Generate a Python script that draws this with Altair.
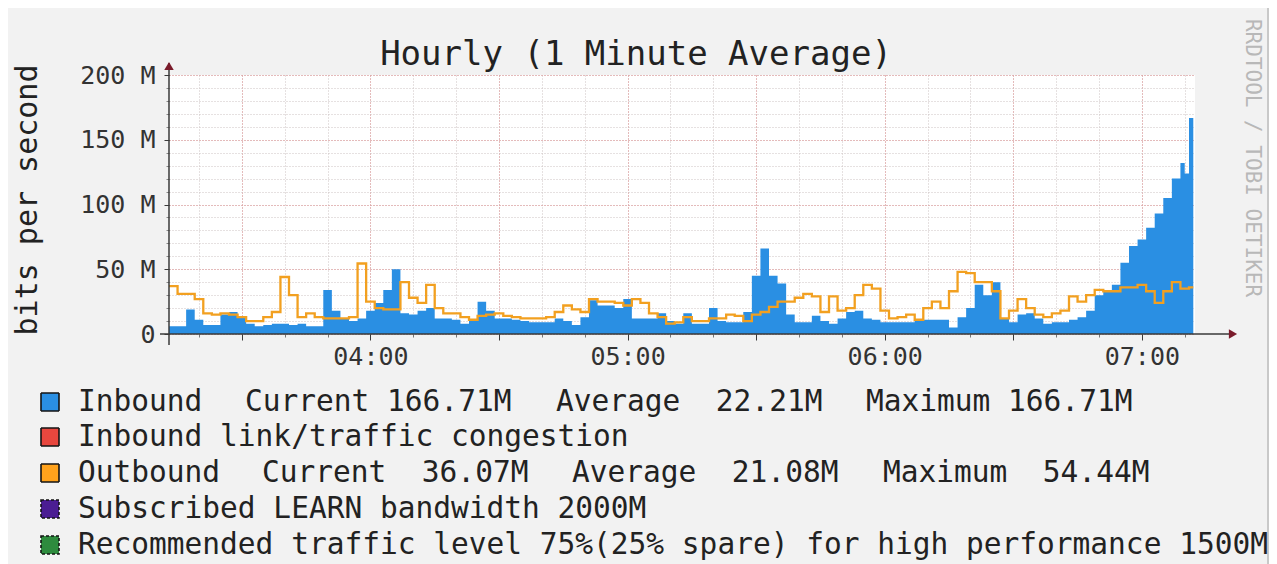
import altair as alt
import pandas as pd

# ---------------- data ----------------
# RRD samples: 2-minute steps from 03:13, then 1-minute steps at the end
start_time = "03:13"
n_two_minute = 118
one_minute_tail = ["07:09", "07:10", "07:11"]
end_time = "07:12"

# Inbound traffic, Mbit/s
inbound = [
    6, 6, 19, 11, 7, 7, 15, 17, 13, 8, 6, 7, 8, 8, 7, 8, 6, 6, 34, 18,
    12, 10, 12, 18, 24, 34, 50, 16, 15, 18, 20, 12, 12, 11, 8, 11, 25, 18,
    12, 12, 11, 10, 9, 9, 9, 12, 10, 7, 13, 26, 22, 22, 20, 27, 12,
    12, 12, 16, 10, 8, 16, 8, 8, 20, 10, 9, 9, 17, 45, 66, 45, 39, 15, 9, 9, 14, 10, 8, 12,
    17, 18, 12, 11, 9, 9, 9, 9, 10, 11, 11, 11, 5, 13, 20, 38, 30, 40, 12, 9, 15, 16, 12, 8, 9,
    9, 11, 13, 18, 30, 34, 38, 55, 68, 73, 82, 93, 105, 120,
    132, 124, 166.71,
]
# Outbound traffic, Mbit/s
outbound = [
    37, 31, 31, 27, 16, 15, 16, 15, 13, 10, 10, 13, 17, 44, 30, 13, 16, 13, 12, 12,
    12, 13, 54.44, 25, 20, 19, 19, 40, 28, 24, 38, 20, 16, 16, 13, 11, 14, 15,
    16, 14, 13, 12, 12, 12, 13, 17, 22, 19, 17, 27, 25, 25, 24, 22, 27,
    24, 16, 13, 8, 9, 13, 10, 10, 12, 12, 15, 14, 10, 15, 17, 21, 25, 25, 28, 31, 29, 17, 29, 18,
    20, 30, 38, 35, 18, 12, 13, 15, 11, 20, 25, 20, 33, 48, 47, 40, 40, 33, 12, 18, 27, 20, 15, 13, 16,
    18, 29, 25, 30, 34, 33, 33, 36, 36, 38, 33, 24, 33, 40,
    35, 35, 36.07,
]

y_ticks = [0, 50, 100, 150, 200]
hour_labels = ["04:00", "05:00", "06:00", "07:00"]

title_text = "Hourly (1 Minute Average)"
y_title = "bits per second"
watermark = "RRDTOOL / TOBI OETIKER"
legend_rows = [
    ["Inbound", "Current 166.71M", "Average  22.21M", "Maximum 166.71M"],
    ["Inbound link/traffic congestion"],
    ["Outbound", "Current  36.07M", "Average  21.08M", "Maximum  54.44M"],
    ["Subscribed LEARN bandwidth 2000M"],
    ["Recommended traffic level 75%(25% spare) for high performance 1500M"],
]
legend_colors = ["#2a8fe3", "#e8473e", "#ffa21c", "#4b1d93", "#2e8b3e"]

# ---------------- build table ----------------
def to_min(s):
    h, m = s.split(":")
    return int(h) * 60 + int(m)

t0 = to_min(start_time)
times = [t0 + 2 * i for i in range(n_two_minute)] + [to_min(s) for s in one_minute_tail]
df = pd.DataFrame({"t": times, "inbound": inbound, "outbound": outbound})
# terminal row so the last step reaches the end of its interval
df = pd.concat([df, pd.DataFrame({"t": [to_min(end_time)], "inbound": [inbound[-1]],
                                  "outbound": [outbound[-1]]})], ignore_index=True)

# ---------------- styling / layout ----------------
MONO = "DejaVu Sans Mono"
BLUE = "#2a8fe3"
ORANGE = "#f2a020"
MINOR = "#cdc2c2"
MAJOR = "#e39494"
AXIS = "#3a3a3a"
ARROW = "#7a1b2b"
W, H = 1026, 259
NBSP = "\u00a0"
LEG_FS = 29.5

xs = alt.Scale(domain=[t0, to_min(end_time) + 0.4], nice=False, zero=False)
ys = alt.Scale(domain=[y_ticks[0], y_ticks[-1]], nice=False)

hour_vals = [to_min(h) for h in hour_labels]
minor_x = alt.Axis(orient="bottom", values=list(range(t0 + 7, to_min(end_time), 10)), grid=True,
                   gridColor=MINOR, gridDash=[1, 2], ticks=True, tickSize=3, tickColor="#777",
                   labels=False, domain=False, title=None)
major_x = alt.Axis(orient="bottom", values=list(range(hour_vals[0] - 30, hour_vals[-1] + 1, 30)),
                   grid=True, gridColor=MAJOR, gridDash=[1, 2], ticks=True, tickSize=6,
                   tickColor=AXIS,
                   labelExpr="datum.value % 60 == 0 ? format(datum.value / 60, '02d') + ':00' : ''",
                   labelFont=MONO, labelFontSize=25, labelColor="#333", labelPadding=4,
                   labelOverlap=False, labelFlush=False, domain=False, title=None)
minor_y = alt.Axis(orient="left", values=list(range(0, 201, 10)), grid=True, gridColor=MINOR,
                   gridDash=[1, 2], ticks=True, tickSize=3, tickColor="#888", labels=False,
                   domain=False, title=None)
major_y = alt.Axis(orient="left", values=y_ticks, grid=True, gridColor=MAJOR, gridDash=[1, 2],
                   ticks=True, tickSize=5, tickColor=AXIS,
                   labelExpr="datum.value == 0 ? '0' : datum.value + ' M'",
                   labelFont=MONO, labelFontSize=25, labelColor="#333", labelPadding=9,
                   labelOverlap=False, labelFlush=False, domain=False, title=None)

area = alt.Chart(df).mark_area(interpolate="step-after", color=BLUE).encode(
    x=alt.X("t:Q", scale=xs, axis=minor_x),
    y=alt.Y("inbound:Q", scale=ys, axis=minor_y),
)
line = alt.Chart(df).mark_line(interpolate="step-after", color=ORANGE, strokeWidth=2.3).encode(
    x=alt.X("t:Q", scale=xs, axis=major_x),
    y=alt.Y("outbound:Q", scale=ys, axis=major_y),
)

one = pd.DataFrame({"a": [0]})
decor = []
# axis lines and arrows
decor.append(alt.Chart(one).mark_rule(color=AXIS, strokeWidth=1.5).encode(
    x=alt.value(0), y=alt.value(-12), y2=alt.value(H + 11)))
decor.append(alt.Chart(one).mark_rule(color=AXIS, strokeWidth=1.5).encode(
    x=alt.value(-9), x2=alt.value(W + 36), y=alt.value(H)))
decor.append(alt.Chart(one).mark_point(shape="triangle-up", filled=True, size=90, color=ARROW,
                                       opacity=1).encode(x=alt.value(0), y=alt.value(-9)))
decor.append(alt.Chart(one).mark_point(shape="triangle-right", filled=True, size=90, color=ARROW,
                                       opacity=1).encode(x=alt.value(W + 38), y=alt.value(H)))
# titles
decor.append(alt.Chart(one).mark_text(text=title_text, font=MONO, fontSize=34, color="#222",
                                      align="center", baseline="middle").encode(
    x=alt.value(467), y=alt.value(-20)))
decor.append(alt.Chart(one).mark_text(text=y_title, font=MONO, fontSize=30, color="#222",
                                      align="center", baseline="middle", angle=270).encode(
    x=alt.value(-141), y=alt.value(125)))
decor.append(alt.Chart(one).mark_text(text=watermark, font=MONO, fontSize=21, color="#b8b8b8",
                                      align="center", baseline="middle", angle=90).encode(
    x=alt.value(1083), y=alt.value(83)))
# frame line at right
decor.append(alt.Chart(one).mark_rule(color="#c9c9c9", strokeWidth=2).encode(
    x=alt.value(1099), y=alt.value(-67), y2=alt.value(489)))

# legend
row_y = [327, 362, 398, 434, 470]
piece_x = {0: [-91, 76, 387, 697], 2: [-91, 93, 403, 714]}
for r, pieces in enumerate(legend_rows):
    cy = row_y[r]
    dash = [3, 2] if r >= 3 else [1, 0]
    decor.append(alt.Chart(one).mark_rect(color=legend_colors[r], stroke="#151515",
                                          strokeWidth=1.6, strokeDash=dash).encode(
        x=alt.value(-128), x2=alt.value(-110), y=alt.value(cy - 9), y2=alt.value(cy + 9)))
    xs_r = piece_x.get(r, [-91])
    for p, txt in enumerate(pieces):
        decor.append(alt.Chart(one).mark_text(text=txt.replace(" ", NBSP), font=MONO,
                                              fontSize=LEG_FS, color="#222",
                                              align="left", baseline="middle").encode(
            x=alt.value(xs_r[p]), y=alt.value(cy)))

chart = alt.layer(area, line, *decor).resolve_axis(x="independent", y="independent").properties(
    width=W, height=H,
    padding={"left": 161, "top": 67, "right": 74, "bottom": 230},
    autosize=alt.AutoSizeParams(type="none"),
    background="#f2f2f2",
).configure_view(fill="white", stroke=None)

chart.save("out.html", embed_options={"renderer": "svg", "actions": False})
